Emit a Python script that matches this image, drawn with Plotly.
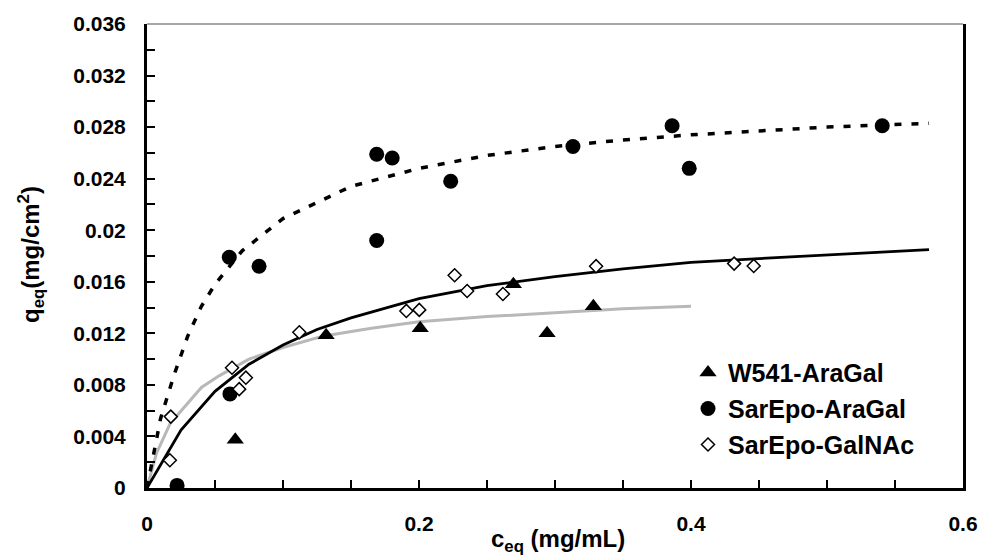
import plotly.graph_objects as go

# ---- data ----
w541_x = [0.0649, 0.1317, 0.2009, 0.2694, 0.2942, 0.3282]
w541_y = [0.00375, 0.01185, 0.0124, 0.0158, 0.0120, 0.0141]

sarepo_aragal_x = [0.0221, 0.0605, 0.0610, 0.0824, 0.1689, 0.1689, 0.1803,
                   0.2233, 0.3132, 0.3861, 0.3987, 0.5406]
sarepo_aragal_y = [0.0002, 0.0179, 0.0073, 0.0172, 0.0259, 0.0192, 0.0256,
                   0.0238, 0.0265, 0.0281, 0.0248, 0.0281]

sarepo_galnac_x = [0.0168, 0.0175, 0.0625, 0.0678, 0.0727, 0.1120, 0.1907,
                   0.2002, 0.2262, 0.2354, 0.2617, 0.3302, 0.4317, 0.4461]
sarepo_galnac_y = [0.00215, 0.00554, 0.00933, 0.00767, 0.00856, 0.01208, 0.01374,
                   0.01382, 0.01651, 0.01528, 0.01505, 0.01721, 0.01741, 0.01723]

# fitted curves
dashed_x = [0, 0.01, 0.02, 0.03, 0.04, 0.05, 0.07, 0.1, 0.15, 0.2, 0.25, 0.3,
            0.35, 0.4, 0.45, 0.5, 0.575]
dashed_y = [0, 0.0054, 0.0088, 0.0118, 0.0141, 0.0158, 0.0184, 0.0209, 0.0234,
            0.0248, 0.0258, 0.0265, 0.0270, 0.0274, 0.0277, 0.0280, 0.0283]

solid_x = [0, 0.025, 0.05, 0.075, 0.1, 0.125, 0.15, 0.2, 0.25, 0.3, 0.35, 0.4,
           0.45, 0.5, 0.575]
solid_y = [0, 0.0045, 0.0075, 0.0096, 0.0111, 0.0123, 0.0132, 0.0147, 0.0157,
           0.0164, 0.0170, 0.0175, 0.0178, 0.0181, 0.0185]

gray_x = [0, 0.007, 0.017, 0.029, 0.04, 0.053, 0.075, 0.1, 0.13, 0.165, 0.2,
          0.25, 0.3, 0.35, 0.4]
gray_y = [0, 0.0027, 0.0050, 0.0065, 0.0078, 0.0087, 0.0100, 0.0109, 0.0118,
          0.0124, 0.0129, 0.0133, 0.0136, 0.0139, 0.0141]

x_tickvals = [0, 0.2, 0.4, 0.6]
x_ticktext = ["0", "0.2", "0.4", "0.6"]
y_tickvals = [0, 0.004, 0.008, 0.012, 0.016, 0.02, 0.024, 0.028, 0.032, 0.036]
y_ticktext = ["0", "0.004", "0.008", "0.012", "0.016", "0.02", "0.024",
              "0.028", "0.032", "0.036"]

FONT = "Liberation Sans, Arial, sans-serif"

fig = go.Figure()

fig.add_trace(go.Scatter(x=gray_x, y=gray_y, mode="lines",
                         line=dict(color="#b8b8b8", width=3),
                         showlegend=False, hoverinfo="skip"))
fig.add_trace(go.Scatter(x=solid_x, y=solid_y, mode="lines",
                         line=dict(color="black", width=2.8),
                         showlegend=False, hoverinfo="skip"))
fig.add_trace(go.Scatter(x=dashed_x, y=dashed_y, mode="lines",
                         line=dict(color="black", width=3.5, dash="7px,10px"),
                         showlegend=False, hoverinfo="skip"))

fig.add_trace(go.Scatter(x=w541_x, y=w541_y, mode="markers", name="W541-AraGal",
                         legendgroup="a",
                         marker=dict(symbol="triangle-up", size=15, color="black",
                                     line=dict(width=0))))
fig.add_trace(go.Scatter(x=sarepo_aragal_x, y=sarepo_aragal_y, mode="markers",
                         name="SarEpo-AraGal", legendgroup="b",
                         marker=dict(symbol="circle", size=15, color="black",
                                     line=dict(width=0))))
fig.add_trace(go.Scatter(x=sarepo_galnac_x, y=sarepo_galnac_y, mode="markers",
                         name="SarEpo-GalNAc", legendgroup="c",
                         marker=dict(symbol="diamond", size=10, color="white",
                                     line=dict(color="black", width=1.5))))

fig.update_layout(
    width=990, height=556,
    margin=dict(l=147, r=20, t=20, b=68),
    paper_bgcolor="white", plot_bgcolor="white",
    font=dict(family=FONT, size=20, color="black", weight="bold"),
    showlegend=True,
    legend=dict(x=0.663, y=0.298, xanchor="left", yanchor="top",
                bgcolor="rgba(0,0,0,0)", font=dict(size=25, weight="bold"),
                tracegroupgap=0.5, itemsizing="trace"),
    xaxis=dict(range=[0, 0.6], tickvals=x_tickvals, ticktext=x_ticktext,
               showgrid=False, zeroline=False, showline=True, linecolor="black",
               linewidth=3, ticks="inside", ticklen=8, tickwidth=2,
               tickcolor="black", ticklabelstandoff=15,
               minor=dict(dtick=0.05, tick0=0, ticks="inside", ticklen=8,
                          tickwidth=2, tickcolor="black", showgrid=False),
               tickfont=dict(size=21, weight="bold")),
    yaxis=dict(range=[0, 0.036], tickvals=y_tickvals, ticktext=y_ticktext,
               showgrid=False, zeroline=False, showline=True, linecolor="black",
               linewidth=3, mirror=True, ticks="inside", ticklen=8, tickwidth=2,
               tickcolor="black", ticklabelstandoff=14,
               minor=dict(dtick=0.002, tick0=0, ticks="inside", ticklen=8,
                          tickwidth=2, tickcolor="black", showgrid=False),
               tickfont=dict(size=21, weight="bold")),
    shapes=[dict(type="line", xref="paper", yref="paper", x0=0, x1=1, y0=1, y1=1,
                 line=dict(color="#8a8a8a", width=1.5))],
    annotations=[
        dict(text="c<sub>eq</sub> (mg/mL)", xref="paper", yref="paper",
             x=(562 - 147) / 823, y=-(541 - 488) / 468, xanchor="center",
             yanchor="middle", showarrow=False,
             font=dict(size=24, weight="bold")),
        dict(text="q<sub>eq</sub>(mg/cm<sup>2</sup>)", xref="paper", yref="paper",
             x=-(147 - 30) / 823, y=(488 - 252) / 468, xanchor="center",
             yanchor="middle", textangle=-90, showarrow=False,
             font=dict(size=24, weight="bold")),
    ],
)

fig.write_html("out.html")
